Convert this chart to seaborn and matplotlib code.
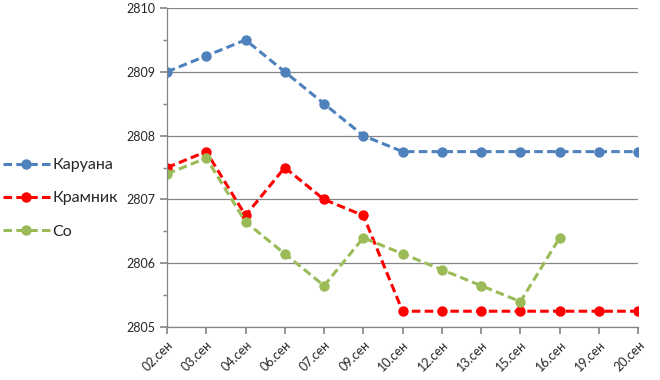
import numpy as np
import pandas as pd
import matplotlib
matplotlib.use('Agg')
import matplotlib.pyplot as plt
import seaborn as sns

# Данные рейтинга (live rating), сентябрь
dates = ['02.сен', '03.сен', '04.сен', '06.сен', '07.сен', '09.сен', '10.сен',
         '12.сен', '13.сен', '15.сен', '16.сен', '19.сен', '20.сен']
caruana = [2809.0, 2809.25, 2809.5, 2809.0, 2808.5, 2808.0, 2807.75,
           2807.75, 2807.75, 2807.75, 2807.75, 2807.75, 2807.75]
kramnik = [2807.5, 2807.75, 2806.75, 2807.5, 2807.0, 2806.75, 2805.25,
           2805.25, 2805.25, 2805.25, 2805.25, 2805.25, 2805.25]
so = [2807.4, 2807.65, 2806.65, 2806.15, 2805.65, 2806.4, 2806.15,
      2805.9, 2805.65, 2805.4, 2806.4, np.nan, np.nan]

series_names = ['Каруана', 'Крамник', 'Со']
series_colors = ['#4F81BD', '#FF0000', '#9BBB59']

sns.set_theme(style='white')
plt.rcParams['font.family'] = ['Lato', 'DejaVu Sans']

fig = plt.figure(figsize=(6.6, 3.8), dpi=100)
ax = fig.add_axes([0.253, 0.139, 0.714, 0.840])

x_pos = np.arange(len(dates))
for name, values, color in zip(series_names, [caruana, kramnik, so], series_colors):
    df = pd.DataFrame({'x': x_pos, 'y': values}).dropna()
    sns.lineplot(data=df, x='x', y='y', ax=ax, color=color, linewidth=2.2,
                 marker='o', markersize=7.5, markeredgewidth=0,
                 dashes=False, label=name)
    ax.lines[-1].set_dashes((2.8, 1.4))

ax.set_xlim(0, len(dates) - 1)
ax.set_ylim(2805, 2810)
ax.set_xticks(x_pos)
ax.set_xticklabels(dates, rotation=45, ha='right', rotation_mode='anchor', fontsize=9)
ax.set_yticks(np.arange(2805, 2811, 1))
ax.set_yticks(np.arange(2805, 2810.5, 0.5), minor=True)
ax.tick_params(axis='y', which='major', labelsize=9, length=5, color='#868686', direction='out', left=True)
ax.tick_params(axis='y', which='minor', length=3, color='#868686', direction='out', left=True)
ax.tick_params(axis='x', length=5, color='#868686', direction='out', bottom=True)
ax.set_xlabel('')
ax.set_ylabel('')

ax.yaxis.grid(True, which='major', color='#868686', linewidth=0.9)
ax.set_axisbelow(True)
for side in ['top', 'right']:
    ax.spines[side].set_visible(False)
for side in ['left', 'bottom']:
    ax.spines[side].set_color('#868686')
    ax.spines[side].set_linewidth(0.9)

# Легенда слева за пределами области графика
handles, labels = ax.get_legend_handles_labels()
ax.legend_.remove()
fig.legend(handles, labels, loc='center left', bbox_to_anchor=(0.0, 0.478),
           frameon=False, fontsize=11.5, labelspacing=1.2, handlelength=2.9,
           handletextpad=0.2, borderaxespad=0.0, borderpad=0.2)

plt.savefig('out.png', dpi=100)
